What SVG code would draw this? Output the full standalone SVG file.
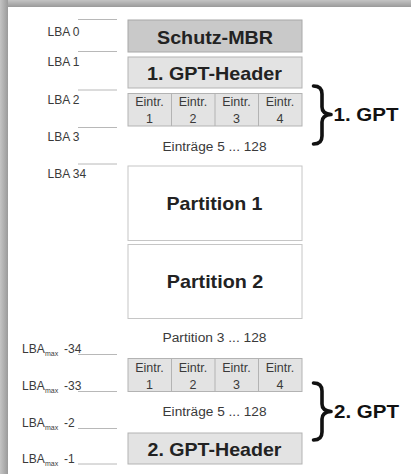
<svg xmlns="http://www.w3.org/2000/svg" width="411" height="474" viewBox="0 0 411 474">
<defs>
<linearGradient id="gTop" x1="0" y1="0" x2="0" y2="1"><stop offset="0" stop-color="#c4c4c4"/><stop offset="1" stop-color="#9a9a9a"/></linearGradient>
<linearGradient id="gLeft" x1="0" y1="0" x2="1" y2="0"><stop offset="0" stop-color="#c4c4c4"/><stop offset="1" stop-color="#9a9a9a"/></linearGradient>
<style>
.lbl{font-family:"Liberation Sans",Arial,sans-serif;font-size:12px;fill:#3a3a3a}
.sub{font-size:7px}
.big{font-family:"Liberation Sans",Arial,sans-serif;font-size:19px;font-weight:bold;fill:#222;text-anchor:middle}
.sm{font-family:"Liberation Sans",Arial,sans-serif;font-size:12.5px;fill:#3a3a3a;text-anchor:middle}
.cell{font-family:"Liberation Sans",Arial,sans-serif;font-size:12.5px;fill:#3a3a3a;text-anchor:middle}
.tick{stroke:#b8b8b8;stroke-width:1}
.div{stroke:#b3b3b3;stroke-width:1}
.dark{fill:#c9c9c9;stroke:#a8a8a8;stroke-width:1}
.light{fill:#e3e3e3;stroke:#b3b3b3;stroke-width:1}
.white{fill:#fff;stroke:#c6c6c6;stroke-width:1}
.brace{fill:none;stroke:#111;stroke-width:3.6;stroke-linecap:round;stroke-linejoin:round}
.gpt{font-family:"Liberation Sans",Arial,sans-serif;font-size:19px;font-weight:bold;fill:#111}
</style>
</defs>
<rect x="0" y="0" width="411" height="474" fill="#fff"/>
<rect x="0" y="0" width="411" height="7" fill="url(#gTop)"/>
<rect x="0" y="0" width="8" height="474" fill="url(#gLeft)"/>

<g id="lba-labels">
<line class="tick" x1="78" y1="19.5" x2="117" y2="19.5"/>
<line class="tick" x1="78" y1="51.5" x2="117" y2="51.5"/>
<line class="tick" x1="78" y1="90" x2="117" y2="90"/>
<line class="tick" x1="78" y1="127.5" x2="117" y2="127.5"/>
<line class="tick" x1="78" y1="164" x2="117" y2="164"/>
<text class="lbl" x="47.5" y="36">LBA 0</text>
<text class="lbl" x="47.5" y="66">LBA 1</text>
<text class="lbl" x="47.5" y="103.5">LBA 2</text>
<text class="lbl" x="47.5" y="140.5">LBA 3</text>
<text class="lbl" x="47.5" y="178">LBA 34</text>
<line class="tick" x1="78" y1="354.5" x2="117" y2="354.5"/>
<line class="tick" x1="78" y1="391.5" x2="117" y2="391.5"/>
<line class="tick" x1="78" y1="428.5" x2="117" y2="428.5"/>
<line class="tick" x1="78" y1="464" x2="117" y2="464"/>
<text class="lbl" x="22" y="353">LBA<tspan class="sub" x="45" dy="3">max</tspan><tspan x="64" dy="-3">-34</tspan></text>
<text class="lbl" x="22" y="390">LBA<tspan class="sub" x="45" dy="3">max</tspan><tspan x="64" dy="-3">-33</tspan></text>
<text class="lbl" x="22" y="427">LBA<tspan class="sub" x="45" dy="3">max</tspan><tspan x="64" dy="-3">-2</tspan></text>
<text class="lbl" x="22" y="463">LBA<tspan class="sub" x="45" dy="3">max</tspan><tspan x="64" dy="-3">-1</tspan></text>
</g>

<g id="schutz-mbr">
<rect class="dark" x="128" y="20" width="174" height="32"/>
<text class="big" x="215" y="43.5" textLength="116" lengthAdjust="spacingAndGlyphs">Schutz-MBR</text>
</g>
<g id="gpt-header-1">
<rect class="light" x="128" y="57" width="174" height="31"/>
<text class="big" x="214.5" y="80" textLength="135" lengthAdjust="spacingAndGlyphs">1. GPT-Header</text>
</g>
<g id="entries-1">
<rect class="light" x="128" y="93.5" width="174" height="32.5"/>
<line class="div" x1="171.5" y1="93.5" x2="171.5" y2="126"/>
<line class="div" x1="215" y1="93.5" x2="215" y2="126"/>
<line class="div" x1="258.5" y1="93.5" x2="258.5" y2="126"/>
<text class="cell" x="149.5" y="106">Eintr.</text><text class="cell" x="149.5" y="123">1</text>
<text class="cell" x="193" y="106">Eintr.</text><text class="cell" x="193" y="123">2</text>
<text class="cell" x="236.5" y="106">Eintr.</text><text class="cell" x="236.5" y="123">3</text>
<text class="cell" x="280" y="106">Eintr.</text><text class="cell" x="280" y="123">4</text>
<text class="sm" x="214.5" y="150.5" textLength="104" lengthAdjust="spacingAndGlyphs">Einträge 5 ... 128</text>
</g>
<g id="partition-1">
<rect class="white" x="128" y="166" width="174" height="74.5"/>
<text class="big" x="214.5" y="210" textLength="96" lengthAdjust="spacingAndGlyphs">Partition 1</text>
</g>
<g id="partition-2">
<rect class="white" x="128" y="244.5" width="174" height="74"/>
<text class="big" x="215" y="288" textLength="96.5" lengthAdjust="spacingAndGlyphs">Partition 2</text>
<text class="sm" x="214.5" y="341.5" textLength="104" lengthAdjust="spacingAndGlyphs">Partition 3 ... 128</text>
</g>
<g id="entries-2">
<rect class="light" x="128" y="358.5" width="174" height="33"/>
<line class="div" x1="171.5" y1="358.5" x2="171.5" y2="391.5"/>
<line class="div" x1="215" y1="358.5" x2="215" y2="391.5"/>
<line class="div" x1="258.5" y1="358.5" x2="258.5" y2="391.5"/>
<text class="cell" x="149.5" y="371.5">Eintr.</text><text class="cell" x="149.5" y="388.5">1</text>
<text class="cell" x="193" y="371.5">Eintr.</text><text class="cell" x="193" y="388.5">2</text>
<text class="cell" x="236.5" y="371.5">Eintr.</text><text class="cell" x="236.5" y="388.5">3</text>
<text class="cell" x="280" y="371.5">Eintr.</text><text class="cell" x="280" y="388.5">4</text>
<text class="sm" x="214.5" y="416" textLength="104" lengthAdjust="spacingAndGlyphs">Einträge 5 ... 128</text>
</g>
<g id="gpt-header-2">
<rect class="light" x="128" y="433" width="174" height="31"/>
<text class="big" x="214.5" y="455.5" textLength="134" lengthAdjust="spacingAndGlyphs">2. GPT-Header</text>
</g>

<g id="connectors">
<path class="brace" d="M313.5,86 C319.5,86 322,88.5 322,94 L322,107 C322,111.5 325,114 331,114.5 C325,115 322,117.5 322,122 L322,136 C322,141.5 319.5,144 313.5,144"/>
<path class="brace" d="M313.5,383 C319.5,383 322,385.5 322,391 L322,404 C322,408.5 325,411 331,411.5 C325,412 322,414.5 322,419 L322,432 C322,437.5 319.5,440 313.5,440"/>
</g>
<g id="gpt-1"><text class="gpt" x="333.5" y="120.5" textLength="65" lengthAdjust="spacingAndGlyphs">1. GPT</text></g>
<g id="gpt-2"><text class="gpt" x="334" y="418" textLength="65" lengthAdjust="spacingAndGlyphs">2. GPT</text></g>
</svg>
